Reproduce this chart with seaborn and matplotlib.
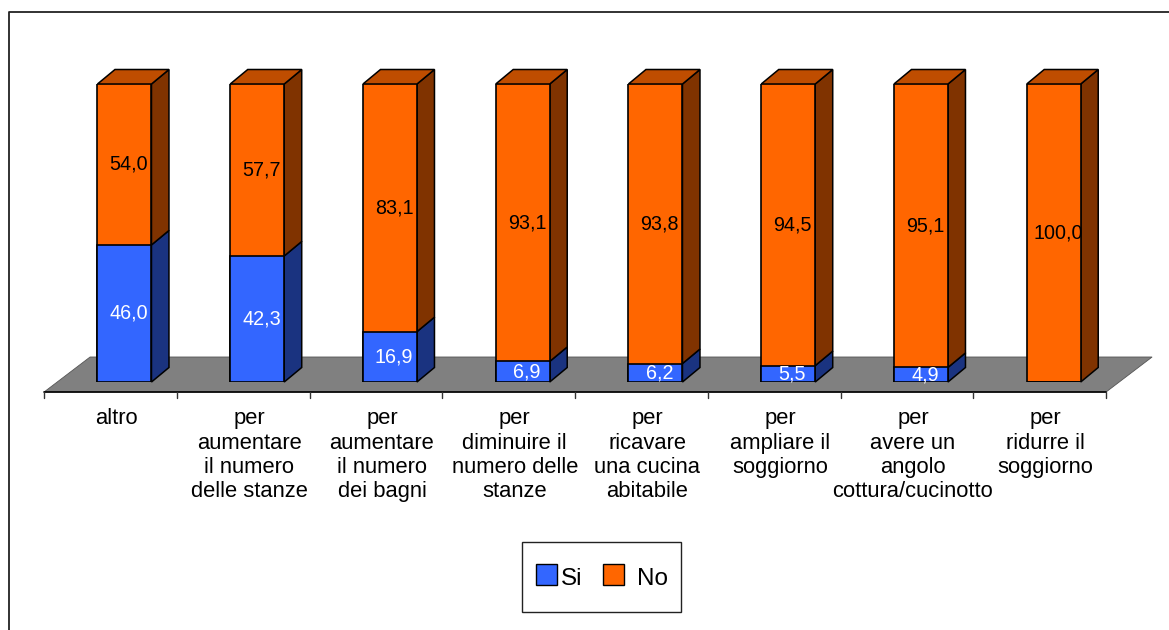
import matplotlib
matplotlib.use("Agg")
import matplotlib.pyplot as plt
from matplotlib.lines import Line2D
from matplotlib.patches import Patch, Polygon, Rectangle
from matplotlib.transforms import ScaledTranslation
import numpy as np
import pandas as pd
import seaborn as sns

categories = [
    "altro",
    "per\naumentare\nil numero\ndelle stanze",
    "per\naumentare\nil numero\ndei bagni",
    "per\ndiminuire il\nnumero delle\nstanze",
    "per\nricavare\nuna cucina\nabitabile",
    "per\nampliare il\nsoggiorno",
    "per\navere un\nangolo\ncottura/cucinotto",
    "per\nridurre il\nsoggiorno",
]
si_values = [46.0, 42.3, 16.9, 6.9, 6.2, 5.5, 4.9, 0.0]
no_values = [54.0, 57.7, 83.1, 93.1, 93.8, 94.5, 95.1, 100.0]

BLUE, BLUE_SIDE = "#3366FF", "#1A3380"
ORANGE, ORANGE_SIDE, ORANGE_TOP = "#FF6600", "#803300", "#BF4D00"
FLOOR = "#808080"

W, H = 1169, 630
sns.set_theme(style="white")
plt.rcParams["font.family"] = ["Liberation Sans", "DejaVu Sans"]

fig = plt.figure(figsize=(W / 100, H / 100), dpi=100, facecolor="white")
ax = fig.add_axes([58.1 / W, (H - 382) / H, 1062 / W, 298 / H])
ax.set_facecolor("none")

# Pixel-to-data scales for the oblique projection
px_x = 1 / 132.75
px_y = 100 / 298
bar_w = 54 * px_x
dx, dy = 17.5 * px_x, 14.5 * px_y

df = pd.DataFrame({"cat": categories, "si": si_values, "no": no_values})
df["total"] = df["si"] + df["no"]

# Stacked fronts: the totals in orange with the Si part over them
sns.barplot(data=df, x="cat", y="total", color=ORANGE, saturation=1, width=bar_w,
            edgecolor="black", linewidth=1.2, ax=ax, zorder=4)
sns.barplot(data=df, x="cat", y="si", color=BLUE, saturation=1, width=bar_w,
            edgecolor="black", linewidth=1.2, ax=ax, zorder=5)

ax.set_xlim(-0.5, 7.5)
ax.set_ylim(0, 100)
ax.set_xlabel("")
ax.set_ylabel("")
ax.set_yticks([])
sns.despine(ax=ax, left=True, bottom=True)

# Floor plane with the category axis along its front edge
fx0, fy0 = -14 * px_x, -10 * px_y
bx0, by0 = 32 * px_x, 25 * px_y
ax.add_patch(Polygon([(-0.5 + fx0, fy0), (7.5 + fx0, fy0), (7.5 + bx0, by0), (-0.5 + bx0, by0)],
                     closed=True, facecolor=FLOOR, edgecolor="#555555", linewidth=0.6,
                     clip_on=False, zorder=1))
ax.add_line(Line2D([-0.5 + fx0, 7.5 + fx0], [fy0, fy0], color="black", lw=1.2,
                   clip_on=False, zorder=2))
for edge in np.arange(-0.5, 8.0):
    ax.add_line(Line2D([edge + fx0, edge + fx0], [fy0, fy0 - 6 * px_y], color="#333333",
                       lw=1, clip_on=False, zorder=2))


def side_face(x, low, high, color):
    right = x + bar_w / 2
    ax.add_patch(Polygon([(right, low), (right + dx, low + dy), (right + dx, high + dy), (right, high)],
                         closed=True, facecolor=color, edgecolor="black", linewidth=1.1,
                         clip_on=False, zorder=3))


for i, (si, no) in enumerate(zip(si_values, no_values)):
    top = si + no
    if si > 0:
        side_face(i, 0, si, BLUE_SIDE)
    side_face(i, si, top, ORANGE_SIDE)
    left, right = i - bar_w / 2, i + bar_w / 2
    ax.add_patch(Polygon([(left, top), (right, top), (right + dx, top + dy), (left + dx, top + dy)],
                         closed=True, facecolor=ORANGE_TOP, edgecolor="black", linewidth=1.1,
                         clip_on=False, zorder=3))
    # Value labels, with the decimal comma
    if si > 0:
        ax.annotate(f"{si:.1f}".replace(".", ","), (i, si / 2), xytext=(3, 0),
                    textcoords="offset points", ha="center", va="center",
                    color="white", fontsize=14.2, zorder=6)
    ax.annotate(f"{no:.1f}".replace(".", ","), (i, si + no / 2), xytext=(3, 0),
                textcoords="offset points", ha="center", va="center",
                color="black", fontsize=14.2, zorder=6)

# Category labels sit a little left of each bar's centre
ax.tick_params(axis="x", length=0, pad=19, labelsize=15.8, colors="black")
shift = ScaledTranslation(-8 / 100, 0, fig.dpi_scale_trans)
for lbl in ax.get_xticklabels():
    lbl.set_transform(lbl.get_transform() + shift)
    lbl.set_linespacing(1.2)
    lbl.set_ha("center")

handles = [Patch(facecolor=BLUE, edgecolor="black", label="Si"),
           Patch(facecolor=ORANGE, edgecolor="black", label="No")]
legend = fig.legend(handles=handles, ncol=2, loc="center",
                    bbox_to_anchor=(602 / W, 1 - 576 / H), fontsize=17.5,
                    frameon=False, borderpad=0, borderaxespad=0, labelcolor="black",
                    handlelength=0.86, handleheight=0.95, handletextpad=0.53,
                    columnspacing=0.45)
# The Si text hugs its swatch more closely than the No text does
legend.get_texts()[0].set_position((-9, -2))
legend.get_texts()[1].set_position((0, -2))

# Legend box
fig.add_artist(Rectangle((521.5 / W, 1 - 611.5 / H), 159 / W, 70 / H, facecolor="none",
                         edgecolor="#222222", lw=1.0, transform=fig.transFigure))

# Outer border of the chart area: top and left edges
fig.add_artist(Line2D([8.5 / W, 8.5 / W, 1], [0, 1 - 11.5 / H, 1 - 11.5 / H],
                      color="#222222", lw=1.3, transform=fig.transFigure))

fig.savefig("out.png", dpi=100, facecolor="white")
